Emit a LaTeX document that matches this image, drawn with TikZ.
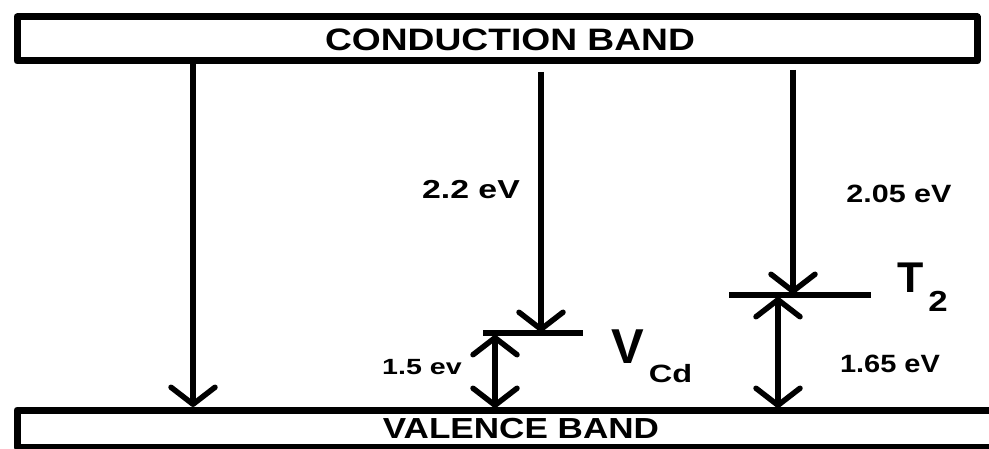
\documentclass[tikz,border=0pt]{standalone}
\usepackage{fontspec}
\setmainfont{Liberation Sans}
\usetikzlibrary{arrows.meta}
\newcommand{\fs}[1]{\fontsize{#1}{#1}\selectfont}
\begin{document}
\begin{tikzpicture}[x=1pt,y=-1pt,
  band/.style={draw,line width=7pt,inner sep=0pt,line join=round},
  lvl/.style={line width=6pt},
  arr/.style={line width=5.5pt,-{Straight Barb[length=17pt,width=44pt,line cap=round,line join=round]}},
  darr/.style={line width=5.5pt,{Straight Barb[length=17pt,width=44pt,line cap=round,line join=round]}-{Straight Barb[length=17pt,width=44pt,line cap=round,line join=round]}},
  lbl/.style={font=\bfseries, inner sep=0pt}]
\clip (0,0) rectangle (989,449);
\fill[white] (0,0) rectangle (989,449);
% bands
\node[band,minimum width=960pt,minimum height=44pt] (cb) at (497,39) {};
\node[band,minimum width=1000pt,minimum height=37pt] (vb) at (517,428.5) {};
\node[lbl,font=\bfseries\fs{31},xscale=1.2] (cbl) at (510,40) {CONDUCTION BAND};
\node[lbl,font=\bfseries\fs{29},xscale=1.21] (vbl) at (521,429) {VALENCE BAND};
% levels
\coordinate (vcdL) at (483,333);
\coordinate (vcdR) at (583,333);
\coordinate (t2L) at (729,295);
\coordinate (t2R) at (871,295);
\draw[lvl] (vcdL) -- (vcdR);
\draw[lvl] (t2L) -- (t2R);
% arrow end points
\coordinate (a1t) at (193,62);
\coordinate (a1b) at (193,407);
\coordinate (a2t) at (541,72);
\coordinate (a2b) at (541,332);
\coordinate (a3t) at (793,70);
\coordinate (a3b) at (793,294);
\coordinate (d1t) at (495,335);
\coordinate (d1b) at (495,408);
\coordinate (d2t) at (778,297);
\coordinate (d2b) at (778,408);
\draw[arr] (a1t) -- (a1b);
\draw[arr] (a2t) -- (a2b);
\draw[arr] (a3t) -- (a3b);
\draw[darr] (d1t) -- (d1b);
\draw[darr] (d2t) -- (d2b);
% labels
\node[lbl,font=\bfseries\fs{26},xscale=1.3] (e1) at (471,190) {2.2 eV};
\node[lbl,font=\bfseries\fs{25},xscale=1.22] (e2) at (899,194) {2.05 eV};
\node[lbl,font=\bfseries\fs{22},xscale=1.3] (e3) at (422,367) {1.5 ev};
\node[lbl,font=\bfseries\fs{25},xscale=1.16] (e4) at (890,364) {1.65 eV};
\node[lbl,font=\bfseries\fs{49},anchor=base west] (vcd) at (611,363) {V\hspace{5pt}\raisebox{-19pt}{\scalebox{1.3}[1]{\fs{25}Cd}}};
\node[lbl,font=\bfseries\fs{43},anchor=base west] (t2) at (897,293) {T\hspace{5pt}\raisebox{-19pt}{\scalebox{1.2}[1]{\fs{29}2}}};
\end{tikzpicture}
\end{document}
